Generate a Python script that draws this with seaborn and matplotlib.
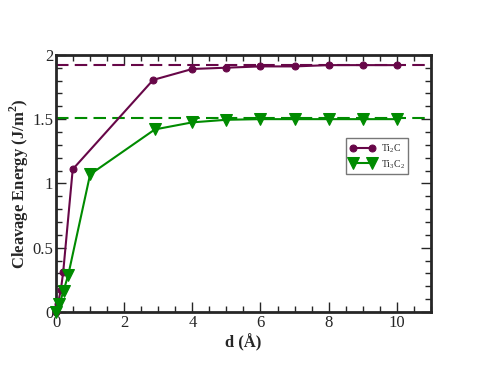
import numpy as np
import pandas as pd
import matplotlib
matplotlib.use("Agg")
import matplotlib.pyplot as plt
import seaborn as sns
from matplotlib.ticker import MultipleLocator

# dados
d_ti2c = [0.0, 0.05, 0.14, 0.21, 0.49, 2.85, 4.0, 5.0, 6.0, 7.0, 8.0, 9.0, 10.0]
e_ti2c = [0.0, 0.06, 0.17, 0.31, 1.11, 1.805, 1.89, 1.90, 1.91, 1.91, 1.92, 1.92, 1.92]
d_ti3c2 = [0.0, 0.1, 0.22, 0.36, 1.0, 2.9, 4.0, 5.0, 6.0, 7.0, 8.0, 9.0, 10.0]
e_ti3c2 = [0.0, 0.06, 0.165, 0.29, 1.07, 1.42, 1.475, 1.495, 1.50, 1.50, 1.50, 1.50, 1.50]
ref_ti2c = 1.92
ref_ti3c2 = 1.505
labels = ["Ti$_2$C", "Ti$_3$C$_2$"]

sns.set_style("ticks")
plt.rcParams['font.family'] = ['Liberation Serif', 'DejaVu Serif']
plt.rcParams['mathtext.fontset'] = 'custom'
plt.rcParams['mathtext.rm'] = 'Liberation Serif'
plt.rcParams['mathtext.bf'] = 'Liberation Serif:bold'

maroon = "#670748"
green = "#008B00"

df1 = pd.DataFrame({'d': d_ti2c, 'E': e_ti2c})
df2 = pd.DataFrame({'d': d_ti3c2, 'E': e_ti3c2})

fig = plt.figure(figsize=(4.83, 3.68), dpi=100)
ax = fig.add_axes([0.116, 0.152, 0.776, 0.699])

ax.axhline(ref_ti2c, color=maroon, ls=(0, (6, 3)), lw=1.5, zorder=1)
ax.axhline(ref_ti3c2, color=green, ls=(0, (6, 3)), lw=1.5, zorder=1)

sns.lineplot(data=df1, x='d', y='E', ax=ax, color=maroon, marker='o', markersize=5,
             markeredgecolor=maroon, lw=1.5, label=labels[0], clip_on=False, zorder=3)
sns.lineplot(data=df2, x='d', y='E', ax=ax, color=green, marker='v', markersize=8,
             markeredgecolor=green, lw=1.5, label=labels[1], clip_on=False, zorder=3)

ax.set_xlim(0, 11)
ax.set_ylim(0, 2)
ax.xaxis.set_major_locator(MultipleLocator(2))
ax.xaxis.set_minor_locator(MultipleLocator(0.5))
ax.yaxis.set_minor_locator(MultipleLocator(0.1))
ax.set_yticks([0, 0.5, 1, 1.5, 2])
ax.set_yticklabels(["0", "0.5", "1", "1.5", "2"])
ax.tick_params(which='both', direction='in', top=True, right=True, width=1, labelsize=12)
ax.tick_params(which='major', length=7, pad=2)
ax.tick_params(which='minor', length=4)
for s in ax.spines.values():
    s.set_linewidth(2)

ax.set_xlabel("d (Å)", fontsize=12, fontweight='bold', labelpad=2)
ax.set_ylabel("Cleavage Energy (J/m$^\\mathbf{2}$)", fontsize=12, fontweight='bold', labelpad=1)

leg = ax.legend(loc='upper left', bbox_to_anchor=(0.762, 0.695), fontsize=7, numpoints=2,
                frameon=True, fancybox=False, edgecolor='#555555', handlelength=2.5,
                borderpad=0.4, labelspacing=0.3, handletextpad=0.6)
leg.get_frame().set_linewidth(1)

fig.savefig("out.png", dpi=100)
